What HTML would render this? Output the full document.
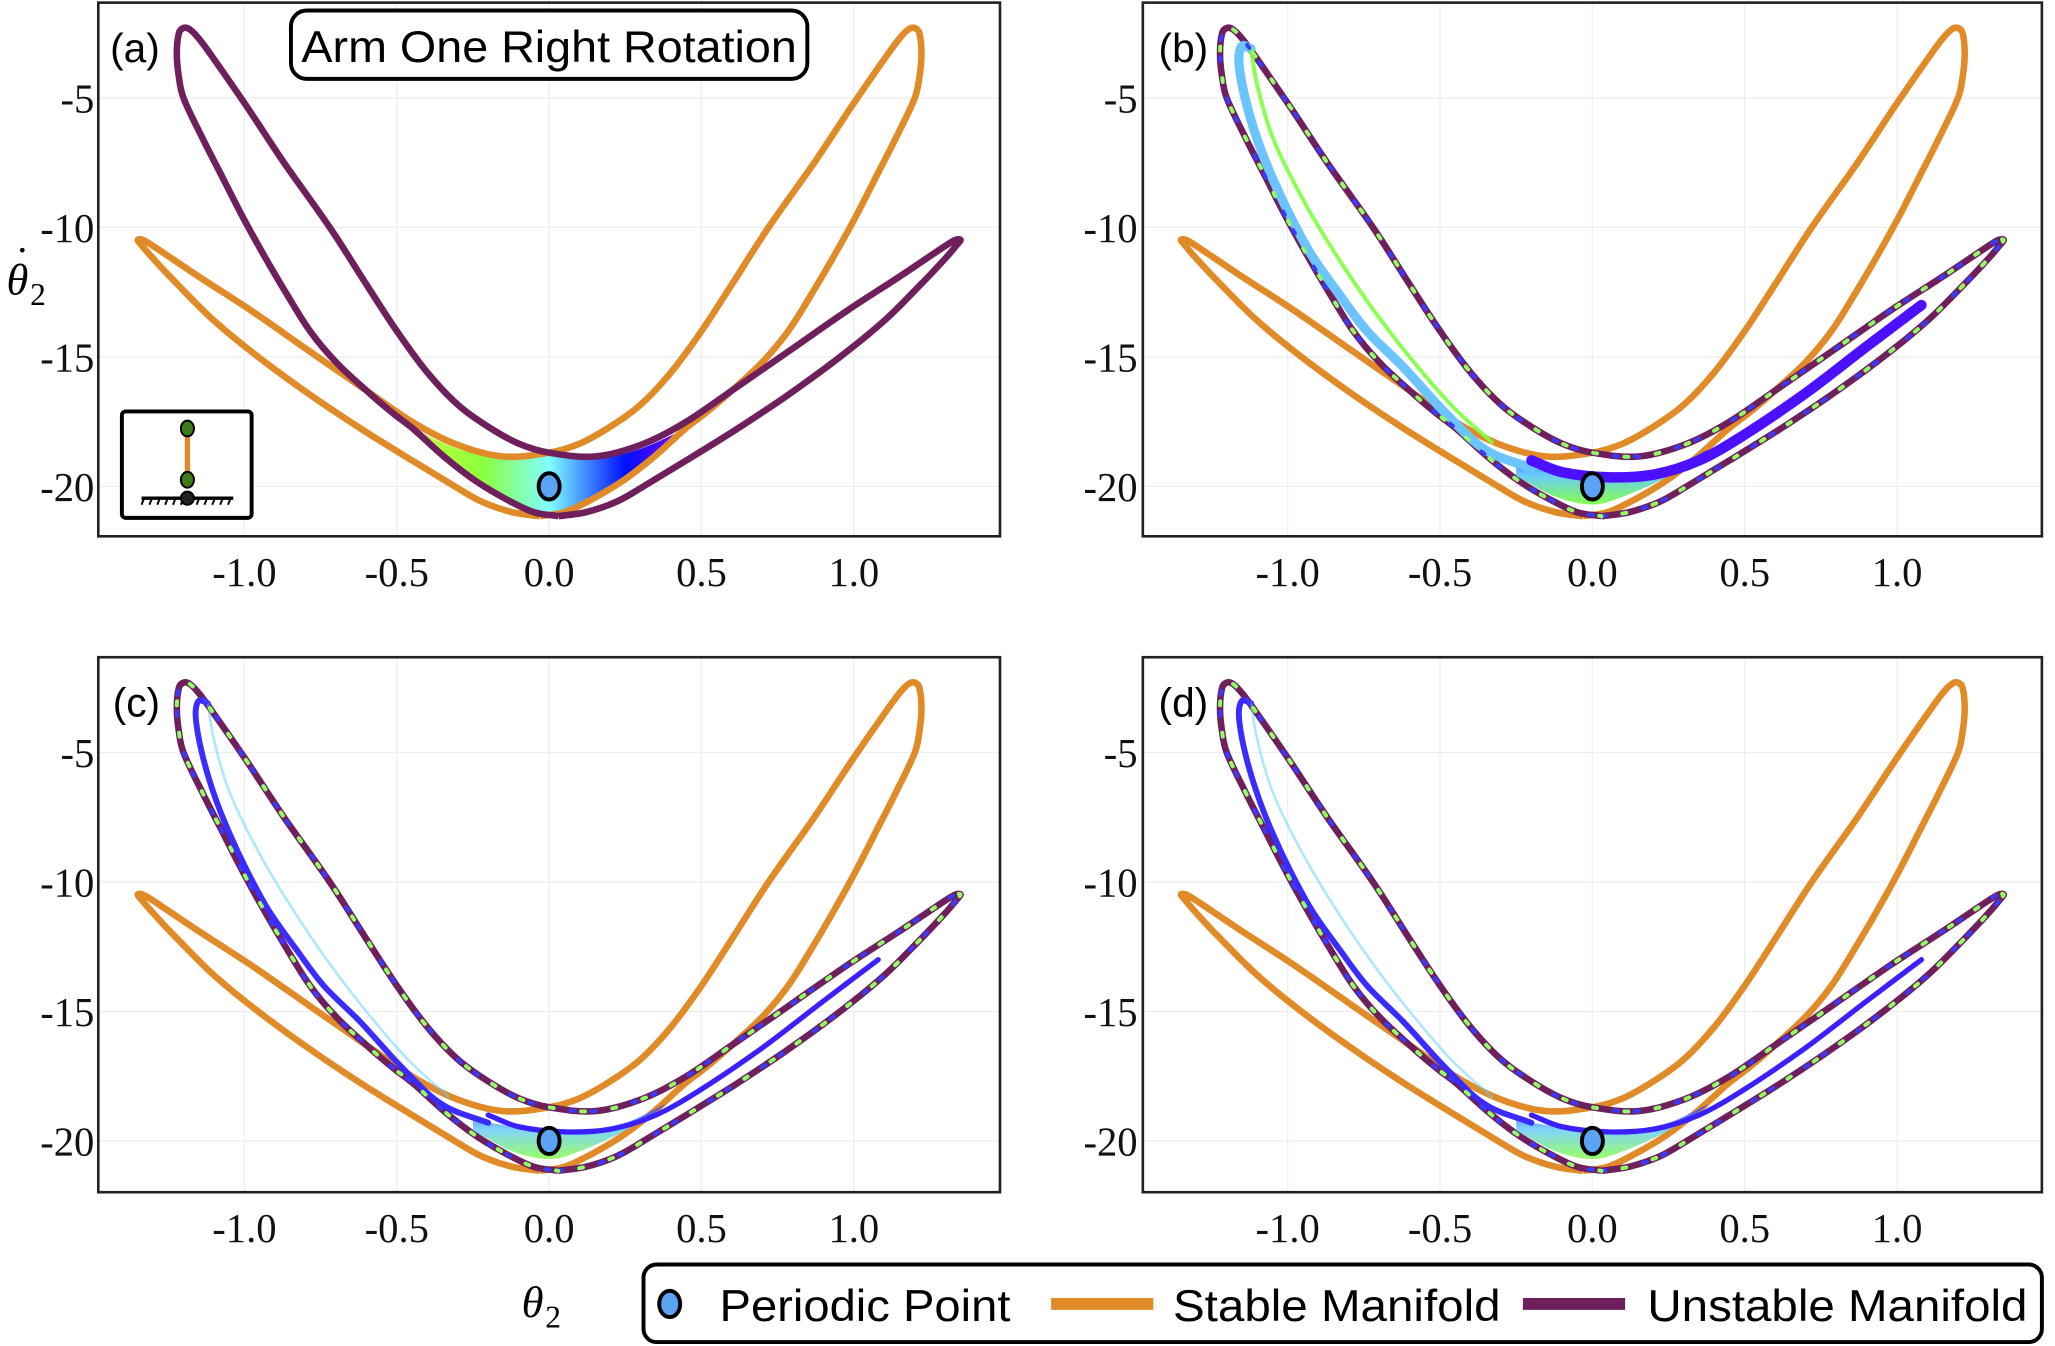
<!DOCTYPE html>
<html><head><meta charset="utf-8">
<style>
html,body{margin:0;padding:0;background:#fff;}
svg{display:block;}
.tick{font-family:"Liberation Serif",serif;font-size:31px;fill:#111;}
.sans{font-family:"Liberation Sans",sans-serif;fill:#000;}
</style></head>
<body>
<svg id="fig" width="2055" height="1346" viewBox="0 0 1568 1024" preserveAspectRatio="none" xmlns="http://www.w3.org/2000/svg">
<defs>
<linearGradient id="gA" x1="0" y1="0" x2="1" y2="0">
<stop offset="0" stop-color="#c8ff40"/><stop offset="0.25" stop-color="#8cff3a"/><stop offset="0.5" stop-color="#80ffff"/><stop offset="0.78" stop-color="#0010ff"/><stop offset="1" stop-color="#8000ff"/>
</linearGradient>
<linearGradient id="gBlob" x1="0" y1="0" x2="0" y2="1">
<stop offset="0" stop-color="#2030ff"/><stop offset="0.45" stop-color="#60c8ff"/><stop offset="1" stop-color="#80ff40"/>
</linearGradient>
</defs>
<g id="panels"></g>
<text class="sans" x="84" y="47" font-size="31">(a)</text>
<text class="sans" x="884" y="47" font-size="31">(b)</text>
<text class="sans" x="86" y="545" font-size="31">(c)</text>
<text class="sans" x="884" y="545" font-size="31">(d)</text>
<g>
<rect x="222" y="8" width="394" height="52" rx="12" fill="#fff" stroke="#000" stroke-width="3"/>
<text class="sans" x="230" y="47" font-size="34" textLength="378" lengthAdjust="spacingAndGlyphs">Arm One Right Rotation</text>
</g>
<g>
<rect x="93" y="313" width="99" height="81" rx="3" fill="#fff" stroke="#000" stroke-width="3"/>
<line x1="143" y1="326" x2="143" y2="365" stroke="#e08a28" stroke-width="4"/>
<line x1="108" y1="379" x2="178" y2="379" stroke="#000" stroke-width="2.5"/>
<path d="M110 379l-2 5M116 379l-2 5M122 379l-2 5M128 379l-2 5M134 379l-2 5M140 379l-2 5M146 379l-2 5M152 379l-2 5M158 379l-2 5M164 379l-2 5M170 379l-2 5M176 379l-2 5" stroke="#000" stroke-width="1.5"/>
<ellipse cx="143" cy="326" rx="5" ry="6" fill="#3f7a1a" stroke="#000" stroke-width="1.5"/>
<ellipse cx="143" cy="365" rx="5" ry="6" fill="#3f7a1a" stroke="#000" stroke-width="1.5"/>
<circle cx="143" cy="379" r="5" fill="#222" stroke="#000" stroke-width="1.5"/>
</g>
<g>
<text x="5" y="224" font-family="Liberation Serif,serif" font-style="italic" font-size="34">θ</text>
<text x="12" y="200" font-family="Liberation Serif,serif" font-size="30">·</text>
<text x="23" y="232" font-family="Liberation Serif,serif" font-size="24">2</text>
</g>
<g>
<text x="398" y="1002" font-family="Liberation Serif,serif" font-style="italic" font-size="34">θ</text>
<text x="416" y="1010" font-family="Liberation Serif,serif" font-size="24">2</text>
</g>
<g>
<rect x="491" y="962" width="1067" height="59" rx="10" fill="#fff" stroke="#000" stroke-width="3"/>
<g><ellipse cx="511" cy="992" rx="8" ry="10" fill="#5ba3f5" stroke="#000" stroke-width="3"/>
<text class="sans" x="549" y="1005" font-size="34" textLength="222" lengthAdjust="spacingAndGlyphs">Periodic Point</text></g>
<g><line x1="802" y1="992" x2="880" y2="992" stroke="#e08a28" stroke-width="9"/>
<text class="sans" x="895" y="1005" font-size="34" textLength="250" lengthAdjust="spacingAndGlyphs">Stable Manifold</text></g>
<g><line x1="1162" y1="992" x2="1240" y2="992" stroke="#6e1f5c" stroke-width="9"/>
<text class="sans" x="1257" y="1005" font-size="34" textLength="290" lengthAdjust="spacingAndGlyphs">Unstable Manifold</text></g>
</g>
</svg>
<script>
// Unstable manifold (theta2, theta2dot), closed loop
const unstableX=[0.03,0.12,0.22,0.31,0.45,0.614,0.78,0.955,1.1,1.22,1.3,1.34,1.35,1.33,1.27,1.15,0.98,0.79,0.6,0.444,0.3,0.15,0.0,-0.1,-0.2,-0.3,-0.4,-0.5,-0.6,-0.72,-0.87,-1.0,-1.1,-1.15,-1.18,-1.2,-1.215,-1.222,-1.215,-1.2,-1.14,-1.075,-1.01,-0.94,-0.865,-0.785,-0.7,-0.59,-0.51,-0.444,-0.34,-0.24,-0.14,-0.05,0.03];
const unstableY=[-21.15,-21.0,-20.6,-20.0,-19.0,-17.8,-16.5,-15.0,-13.6,-12.2,-11.2,-10.65,-10.48,-10.5,-10.95,-11.9,-13.2,-14.75,-16.3,-17.55,-18.4,-18.85,-18.7,-18.35,-17.7,-16.85,-15.6,-14.0,-12.2,-10.0,-7.5,-5.2,-3.5,-2.7,-2.35,-2.3,-2.5,-3.3,-4.2,-5.0,-6.5,-8.0,-9.5,-11.0,-12.5,-14.0,-15.2,-16.4,-17.2,-17.8,-18.9,-19.8,-20.5,-21.0,-21.15];
// Stable manifold, closed loop
const stableX=[-0.03,-0.12,-0.22,-0.31,-0.45,-0.614,-0.78,-0.955,-1.1,-1.22,-1.3,-1.34,-1.35,-1.33,-1.27,-1.15,-0.98,-0.79,-0.6,-0.444,-0.3,-0.15,0.0,0.1,0.2,0.3,0.4,0.5,0.6,0.72,0.87,1.0,1.1,1.15,1.18,1.2,1.215,1.222,1.215,1.2,1.14,1.075,1.01,0.94,0.865,0.785,0.7,0.59,0.51,0.444,0.34,0.24,0.14,0.05,-0.03];
const stableY=[-21.15,-21.0,-20.6,-20.0,-19.0,-17.8,-16.5,-15.0,-13.6,-12.2,-11.2,-10.65,-10.48,-10.5,-10.95,-11.9,-13.2,-14.75,-16.3,-17.55,-18.4,-18.85,-18.7,-18.35,-17.7,-16.85,-15.6,-14.0,-12.2,-10.0,-7.5,-5.2,-3.5,-2.7,-2.35,-2.3,-2.5,-3.3,-4.2,-5.0,-6.5,-8.0,-9.5,-11.0,-12.5,-14.0,-15.2,-16.4,-17.2,-17.8,-18.9,-19.8,-20.5,-21.0,-21.15];
const periodicX=[0.0];
const periodicY=[-20.0];
// Initial colored region (panel a)
const regionTopX=[-0.444,-0.3,-0.16,0.0,0.16,0.3,0.444];
const regionTopY=[-17.8,-18.55,-18.9,-18.65,-18.9,-18.55,-17.8];
const regionBotX=[0.444,0.3,0.15,0.0,-0.15,-0.3,-0.444];
const regionBotY=[-17.8,-19.2,-20.4,-21.1,-20.4,-19.2,-17.8];
// Iterated trajectory bands (panels b,c,d)
const bandLeftX=[-0.2,-0.35,-0.48,-0.62,-0.74,-0.83,-0.92,-0.99,-1.05,-1.1,-1.14,-1.16,-1.15,-1.12];
const bandLeftY=[-19.3,-18.6,-17.2,-15.4,-14.0,-12.6,-11.1,-9.6,-8.1,-6.6,-5.0,-3.6,-3.0,-3.1];
const bandInnerX=[-1.12,-1.1,-1.05,-0.96,-0.85,-0.73,-0.6,-0.46,-0.33];
const bandInnerY=[-3.1,-4.5,-6.5,-8.7,-10.9,-13.0,-15.0,-16.9,-18.3];
const bandRightX=[-0.2,-0.1,0.05,0.2,0.35,0.5,0.7,0.9,1.08];
const bandRightY=[-19.0,-19.45,-19.65,-19.55,-19.0,-18.0,-16.4,-14.6,-13.0];
const blobX=[-0.25,-0.05,0.1,0.25,0.38,0.25,0.1,0.0,-0.12,-0.25];
const blobY=[-19.2,-19.55,-19.6,-19.3,-18.6,-19.6,-20.4,-20.7,-20.4,-19.6];
const xTicks=[-1.0,-0.5,0.0,0.5,1.0];
const xTickLabels=["-1.0","-0.5","0.0","0.5","1.0"];
const yTicks=[-5,-10,-15,-20];
const yTickLabels=["-5","-10","-15","-20"];

const NS="http://www.w3.org/2000/svg";
const root=document.getElementById('panels');
function mk(tag,attrs,parent){const e=document.createElementNS(NS,tag);for(const k in attrs)e.setAttribute(k,attrs[k]);parent.appendChild(e);return e;}
function smooth(pts,closed){
  let d="M"+pts[0][0].toFixed(1)+" "+pts[0][1].toFixed(1);
  const dist=(a,b)=>Math.max(Math.sqrt(Math.hypot(a[0]-b[0],a[1]-b[1])),1e-3);
  for(let i=0;i<pts.length-1;i++){
    const p0=pts[Math.max(i-1,0)],p1=pts[i],p2=pts[i+1],p3=pts[Math.min(i+2,pts.length-1)];
    const d1=dist(p0,p1),d2=dist(p1,p2),d3=dist(p2,p3);
    const c1=[],c2=[];
    for(let k=0;k<2;k++){
      c1[k]=p1[k]+ (i===0?(p2[k]-p1[k])/3 : (d2/(d1+d2))*(p2[k]-p0[k])/3);
      c2[k]=p2[k]- (i===pts.length-2?(p2[k]-p1[k])/3 : (d2/(d2+d3))*(p3[k]-p1[k])/3);
    }
    d+=" C"+c1[0].toFixed(1)+" "+c1[1].toFixed(1)+" "+c2[0].toFixed(1)+" "+c2[1].toFixed(1)+" "+p2[0].toFixed(1)+" "+p2[1].toFixed(1);
  }
  return d+(closed?" Z":"");
}
const panels=[
 {id:'a',fx:75,fw:688,fy:2,fh:406,ox:419,oy:370,ylx:72},
 {id:'b',fx:872,fw:686,fy:2,fh:406,ox:1215,oy:370,ylx:868},
 {id:'c',fx:75,fw:688,fy:500,fh:407,ox:419,oy:868,ylx:72},
 {id:'d',fx:872,fw:686,fy:500,fh:407,ox:1215,oy:868,ylx:868}
];
panels.forEach(P=>{
  const sx=x=>P.ox+232.5*x, sy=y=>P.oy-19.7*(y+20);
  const pts=(X,Y)=>X.map((x,i)=>[sx(x),sy(Y[i])]);
  const g=mk('g',{},root);
  
  
  const cid='clip'+P.id;
  const cp=mk('clipPath',{id:cid},g);mk('rect',{x:P.fx,y:P.fy,width:P.fw,height:P.fh},cp);
  xTicks.forEach(t=>{const l=mk('line',{x1:sx(t),x2:sx(t),y1:P.fy,y2:P.fy+P.fh,stroke:'#eeeeee','stroke-width':1},g);
    });
  yTicks.forEach(t=>{const l=mk('line',{x1:P.fx,x2:P.fx+P.fw,y1:sy(t),y2:sy(t),stroke:'#eeeeee','stroke-width':1},g);
    });
  const c=mk('g',{'clip-path':'url(#'+cid+')'},g);
  if(P.id==='a'){
    const reg=mk('path',{d:smooth(pts(regionTopX,regionTopY))+" "+smooth(pts(regionBotX,regionBotY)).replace('M','L')+" Z",fill:'url(#gA)'},c);
    
  }
  const st=mk('path',{d:smooth(pts(stableX,stableY)),fill:'none',stroke:'#e08a28','stroke-width':5,'stroke-linejoin':'round'},c);
  
  const un=mk('path',{d:smooth(pts(unstableX,unstableY)),fill:'none',stroke:'#6e1f5c','stroke-width':5,'stroke-linejoin':'round'},c);
  
  if(P.id!=='a'){
    const isB=P.id==='b';
    const blob=mk('path',{d:smooth(pts(blobX,blobY))+" Z",fill:'url(#gBlob)',opacity:isB?0.95:0.8},c);
    
    const bl=mk('path',{d:smooth(pts(bandLeftX,bandLeftY)),fill:'none',stroke:isB?'#6cc4ff':'#3a2cff','stroke-width':isB?7:4.5,'stroke-linecap':'round'},c);
    
    const bi=mk('path',{d:smooth(pts(bandInnerX,bandInnerY)),fill:'none',stroke:isB?'#80ff40':'#60d0ff','stroke-width':isB?3:2,'stroke-linecap':'round',opacity:isB?0.9:0.5},c);
    
    const ud=mk('path',{d:smooth(pts(unstableX,unstableY)),fill:'none',stroke:'#3a3aff','stroke-width':3,'stroke-dasharray':'3 13','stroke-linecap':'round'},c);
    
    const ud2=mk('path',{d:smooth(pts(unstableX,unstableY)),fill:'none',stroke:'#90ff60','stroke-width':3,'stroke-dasharray':'3 21','stroke-dashoffset':8,'stroke-linecap':'round'},c);
    
    const br=mk('path',{d:smooth(pts(bandRightX,bandRightY)),fill:'none',stroke:isB?'#4a10ff':'#3a20ff','stroke-width':isB?8:4,'stroke-linecap':'round'},c);
    
  }
  const pp=mk('ellipse',{cx:sx(periodicX[0]),cy:sy(periodicY[0]),rx:8,ry:10,fill:'#5ba3f5',stroke:'#000','stroke-width':3},g);
  
  const fr=mk('rect',{x:P.fx,y:P.fy,width:P.fw,height:P.fh,fill:'none',stroke:'#222','stroke-width':2},g);
  
  xTicks.forEach((t,i)=>{const tx=mk('text',{x:sx(t),y:P.fy+P.fh+38,'text-anchor':'middle',class:'tick'},g);tx.textContent=xTickLabels[i];
    });
  yTicks.forEach((t,i)=>{const tx=mk('text',{x:P.ylx,y:sy(t)+11,'text-anchor':'end',class:'tick'},g);tx.textContent=yTickLabels[i];
    });
});
</script>
</body></html>
